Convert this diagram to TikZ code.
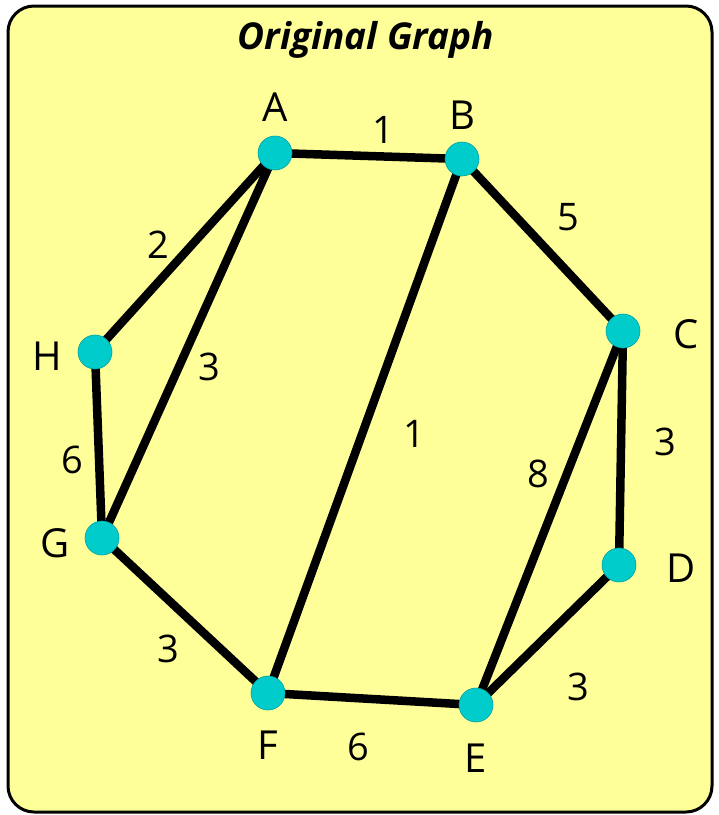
\documentclass[tikz,border=0pt]{standalone}
\usepackage{fontspec}
\setmainfont{Open Sans}
\usepackage{xcolor}
\definecolor{gpanel}{HTML}{FFFF99}
\definecolor{gvert}{HTML}{00CCCC}
\definecolor{gvertline}{HTML}{00A0A0}
\usetikzlibrary{positioning,backgrounds}
\tikzset{
  panel/.style={draw=black, line width=3pt, fill=gpanel, rounded corners=26pt},
  vtx/.style  ={circle, fill=gvert, draw=gvertline, line width=0.6pt,
                inner sep=0pt, minimum size=34pt},
  vlbl/.style ={font=\fontsize{40}{42}\selectfont, inner sep=0pt},
  elbl/.style ={font=\fontsize{38}{40}\selectfont, inner sep=0pt},
  edge/.style ={line width=8.5pt, black},
  ttl/.style  ={font=\fontsize{37}{39}\selectfont\bfseries\itshape, inner sep=0pt},
}

\begin{document}
\begin{tikzpicture}[x=1pt,y=-1pt]
  \useasboundingbox (0,0) rectangle (719,815);
  \node[ttl] (title) at (366,40) {Original Graph};

  % vertices
  \node[vtx] (A) at (275,153) {};
  \node[vtx] (B) at (462,159) {};
  \node[vtx] (C) at (623,331) {};
  \node[vtx] (D) at (619,565) {};
  \node[vtx] (E) at (476,705) {};
  \node[vtx] (F) at (268,693) {};
  \node[vtx] (G) at (102,538) {};
  \node[vtx] (H) at (95,352) {};

  % panel and edges behind the vertices
  \begin{scope}[on background layer]
    \draw[panel] (8,6) rectangle (712,812);
    \foreach \a/\b in {A/B, B/C, C/D, D/E, E/F, F/G, G/H, H/A, A/G, B/F, C/E}
      \draw[edge] (\a.center) -- (\b.center);
  \end{scope}

  % vertex labels
  \node[vlbl] (lA) at (275,107) {A};
  \node[vlbl] (lB) at (462,115) {B};
  \node[vlbl] (lC) at (686,334) {C};
  \node[vlbl] (lD) at (681,568) {D};
  \node[vlbl] (lE) at (476,758) {E};
  \node[vlbl] (lF) at (268,745) {F};
  \node[vlbl] (lG) at (55,543) {G};
  \node[vlbl] (lH) at (47,356) {H};

  % weights
  \node[elbl] (wAB) at (383,130) {1};
  \node[elbl] (wBC) at (568,217) {5};
  \node[elbl] (wCD) at (665,442) {3};
  \node[elbl] (wDE) at (578,687) {3};
  \node[elbl] (wEF) at (358,747) {6};
  \node[elbl] (wFG) at (168,649) {3};
  \node[elbl] (wGH) at (72,460) {6};
  \node[elbl] (wHA) at (158,245) {2};
  \node[elbl] (wAG) at (209,367) {3};
  \node[elbl] (wBF) at (414,434) {1};
  \node[elbl] (wCE) at (538,474) {8};
\end{tikzpicture}
\end{document}
